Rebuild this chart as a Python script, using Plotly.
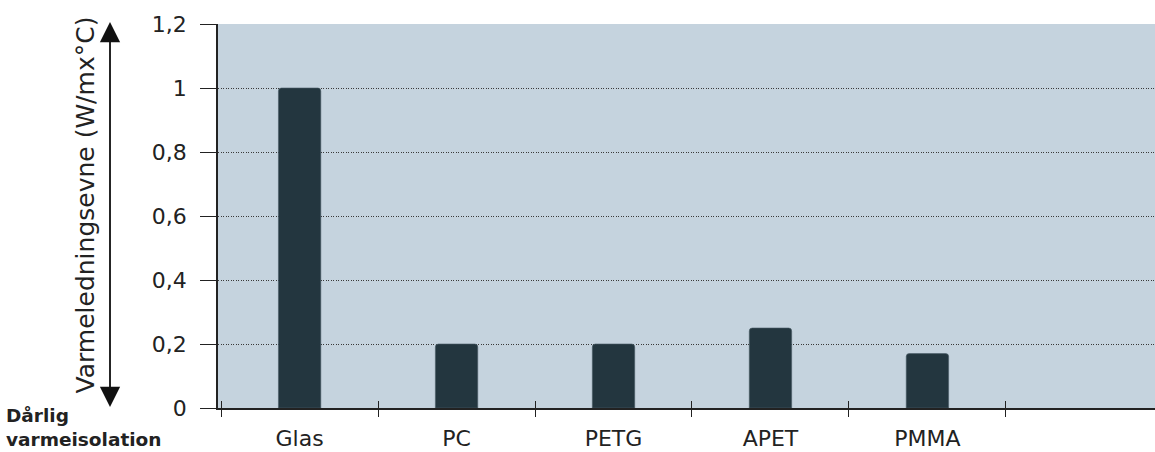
import plotly.graph_objects as go

materials = ["Glas", "PC", "PETG", "APET", "PMMA"]
conductivity = [1.0, 0.2, 0.2, 0.25, 0.17]
y_ticks = [0, 0.2, 0.4, 0.6, 0.8, 1.0, 1.2]
y_tick_labels = ["0", "0,2", "0,4", "0,6", "0,8", "1", "1,2"]

FONT = "DejaVu Sans"
TEXT = "#222222"
BAR = "#23363F"
PANEL = "#C5D3DE"
X_RANGE = [-0.52, 5.45]

PLOT_L, PLOT_W, PLOT_B, PLOT_H = 218, 937, 408, 384


def px_x(x):
    return (x - PLOT_L) / PLOT_W


def px_y(y):
    return (PLOT_B - y) / PLOT_H


fig = go.Figure()
fig.add_trace(go.Bar(
    x=materials, y=conductivity, width=0.27,
    marker=dict(color=BAR, line=dict(color="#4a5d66", width=0.6), cornerradius=3),
    hoverinfo="skip", showlegend=False,
))
# invisible helper trace so the overlay axis knows the categories
fig.add_trace(go.Scatter(
    x=materials, y=conductivity, xaxis="x2", mode="markers",
    marker=dict(opacity=0), hoverinfo="skip", showlegend=False,
))

fig.update_layout(
    width=1155, height=452,
    margin=dict(l=218, r=0, t=24, b=44),
    paper_bgcolor="white", plot_bgcolor=PANEL,
    font=dict(family=FONT, color=TEXT, size=22),
    xaxis=dict(
        type="category", categoryorder="array", categoryarray=materials,
        range=X_RANGE, tickson="boundaries", ticks="outside", ticklen=7,
        tickwidth=1.3, tickcolor="#222", showgrid=False, zeroline=False,
        showline=True, linecolor="#222", linewidth=1.5, automargin=False,
        ticklabelstandoff=10, tickfont=dict(size=22, family=FONT, color=TEXT),
    ),
    xaxis2=dict(
        type="category", categoryorder="array", categoryarray=materials,
        overlaying="x", side="bottom", anchor="y", automargin=False,
        range=X_RANGE, tickson="boundaries", ticks="inside", ticklen=7,
        tickwidth=1.3, tickcolor="#222", showgrid=False, zeroline=False,
        showline=False, showticklabels=False,
    ),
    yaxis=dict(
        range=[0, 1.2], tickvals=y_ticks, ticktext=y_tick_labels,
        ticks="outside", ticklen=16, tickwidth=1.3, tickcolor="#222",
        showline=True, linecolor="#222", linewidth=1.5, automargin=False,
        showgrid=True, gridcolor="#3a3a3a", gridwidth=1, griddash="1px,1.5px",
        zeroline=False, ticklabelstandoff=9,
        tickfont=dict(size=22, family=FONT, color=TEXT),
    ),
)

# Axis title
fig.add_annotation(
    xref="paper", yref="paper", x=px_x(68), y=px_y(205),
    text="Varmeledningsevne (W/mx°C)", textangle=-90, showarrow=False,
    font=dict(size=25, family=FONT, color=TEXT),
)

# Double-headed vertical arrow next to the axis title
arrow_x = px_x(110)
for tip_y, ay in [(px_y(22), 372), (px_y(407), -372)]:
    fig.add_annotation(
        xref="paper", yref="paper", x=arrow_x, y=tip_y, text="",
        showarrow=True, ax=0, ay=ay, axref="pixel", ayref="pixel",
        arrowhead=2, arrowsize=2.9, arrowwidth=1.4, arrowcolor="#111",
    )

# Bottom-left bold label
fig.add_annotation(
    xref="paper", yref="paper", x=px_x(5), y=px_y(427),
    xanchor="left", yanchor="middle", align="left", showarrow=False,
    text="<b>Dårlig<br>varmeisolation</b>", borderpad=0,
    font=dict(size=18.5, family=FONT, color=TEXT),
)

fig.write_html("out.html")
